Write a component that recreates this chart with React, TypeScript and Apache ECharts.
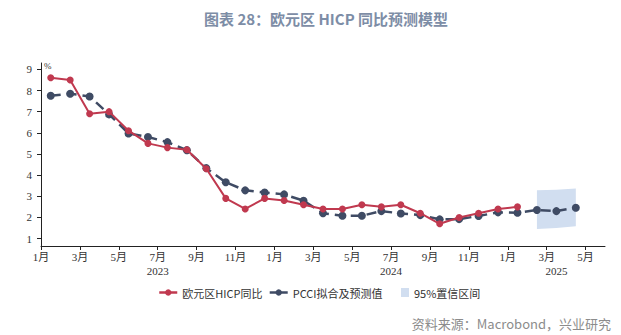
import React, { useEffect, useRef } from "react";
import * as echarts from "echarts";

// Monthly data starting Jan 2023 (plotted at mid-month)
const hicp = [8.6, 8.5, 6.9, 7.0, 6.1, 5.5, 5.3, 5.2, 4.3, 2.9, 2.4, 2.9, 2.8, 2.6, 2.4, 2.4, 2.6, 2.5, 2.6, 2.2, 1.7, 2.0, 2.2, 2.4, 2.5];
const pcci = [7.75, 7.85, 7.72, 6.87, 5.97, 5.8, 5.56, 5.18, 4.33, 3.66, 3.28, 3.18, 3.09, 2.79, 2.2, 2.08, 2.08, 2.3, 2.19, 2.11, 1.91, 1.92, 2.07, 2.24, 2.22, 2.35, 2.3, 2.46];
// 95% confidence band (Feb–Apr 2025, month index 25..27)
const bandStart = 25;
const bandUpper = [3.28, 3.31, 3.37];
const bandLower = [1.45, 1.5, 1.58];

const monthTicks = [0, 2, 4, 6, 8, 10, 12, 14, 16, 18, 20, 22, 24, 26, 28];
const yearLabelPos = [6, 18, 26.5];
const yTicks = [1, 2, 3, 4, 5, 6, 7, 8, 9];

const SERIF = "'Liberation Serif', 'Noto Sans CJK SC', serif";
const CJK = "'Noto Sans CJK SC', sans-serif";
const BAND = "#d1def0";

export default function App() {
  const ref = useRef<HTMLDivElement>(null);
  useEffect(() => {
    document.body.style.margin = "0";
    const chart = echarts.init(ref.current!, null, { renderer: "svg" });
    const names = ["欧元区HICP同比", "PCCI拟合及预测值", "95%置信区间"];
    const bandData = bandUpper.map((v, i) => [bandStart + i + 0.5, bandLower[i], v]);
    chart.setOption({
      animation: false,
      backgroundColor: "#ffffff",
      title: {
        text: "图表 28：欧元区 HICP 同比预测模型",
        left: 199,
        top: 6,
        textStyle: { fontSize: 15, fontWeight: "bold", color: "#7d8da6", fontFamily: CJK },
      },
      legend: [
        {
          data: [names[0], names[1]],
          left: 153,
          top: 282,
          itemWidth: 18,
          itemHeight: 8,
          itemGap: 6,
          lineStyle: { type: "solid", width: 2.5 },
          textStyle: { fontSize: 11, color: "#333", fontFamily: CJK },
        },
        {
          data: [{ name: names[2], icon: "rect" }],
          left: 396,
          top: 282,
          itemWidth: 8,
          itemHeight: 9,
          itemGap: 4,
          textStyle: { fontSize: 11, color: "#333", fontFamily: CJK },
        },
      ],
      grid: { left: 41, right: 16, top: 63, bottom: 89 },
      xAxis: [
        {
          type: "value",
          min: 0,
          max: 29,
          axisLine: { show: true, lineStyle: { color: "#222", width: 1 } },
          axisTick: { show: true, length: 4, customValues: monthTicks, lineStyle: { color: "#222" } },
          axisLabel: {
            customValues: monthTicks,
            margin: 5,
            fontSize: 11,
            color: "#333",
            fontFamily: SERIF,
            formatter: (v: number) => ((Math.round(v) % 12) + 1) + "月",
          },
          splitLine: { show: false },
        },
        {
          type: "value",
          min: 0,
          max: 29,
          position: "bottom",
          offset: 14,
          axisLine: { show: false },
          axisTick: { show: false },
          axisLabel: {
            customValues: yearLabelPos,
            margin: 5,
            fontSize: 11,
            color: "#333",
            fontFamily: SERIF,
            formatter: (v: number) => String(2023 + Math.floor(v / 12)),
          },
          splitLine: { show: false },
        },
      ],
      yAxis: {
        type: "value",
        min: 0.65,
        max: 9.3,
        axisLine: { show: true, lineStyle: { color: "#222", width: 1 } },
        axisTick: { show: true, length: 4, customValues: yTicks, lineStyle: { color: "#222" } },
        axisLabel: { customValues: yTicks, margin: 9, fontSize: 11, color: "#333", fontFamily: SERIF },
        splitLine: { show: false },
      },
      graphic: [
        {
          type: "text",
          left: 44,
          top: 61,
          style: { text: "%", fontSize: 9, fill: "#333", fontFamily: SERIF },
        },
        {
          type: "text",
          right: 10,
          bottom: 5,
          style: { text: "资料来源：Macrobond，兴业研究", fontSize: 13, fill: "#8c8c8c", fontFamily: CJK },
        },
      ],
      series: [
        {
          name: names[2],
          type: "custom",
          data: bandData,
          encode: { x: 0, y: [1, 2] },
          itemStyle: { color: BAND },
          z: 1,
          silent: true,
          renderItem: (params: any, api: any) => {
            if (params.dataIndex !== 0) return null;
            const top = bandData.map((d) => api.coord([d[0], d[2]]));
            const bottom = bandData.map((d) => api.coord([d[0], d[1]])).reverse();
            return {
              type: "polygon",
              shape: { points: top.concat(bottom) },
              style: { fill: BAND },
            };
          },
        },
        {
          name: names[1],
          type: "line",
          data: pcci.map((v, i) => [i + 0.5, v]),
          color: "#3f4b64",
          symbol: "circle",
          symbolSize: 8,
          lineStyle: { color: "#3f4b64", width: 2.5, type: [10, 6] },
          itemStyle: { color: "#3f4b64" },
          z: 3,
        },
        {
          name: names[0],
          type: "line",
          data: hicp.map((v, i) => [i + 0.5, v]),
          color: "#c0394f",
          symbol: "circle",
          symbolSize: 7,
          lineStyle: { color: "#c0394f", width: 2 },
          itemStyle: { color: "#c0394f" },
          z: 4,
        },
      ],
    });
    return () => chart.dispose();
  }, []);
  return <div ref={ref} style={{ width: 621, height: 335 }} />;
}
